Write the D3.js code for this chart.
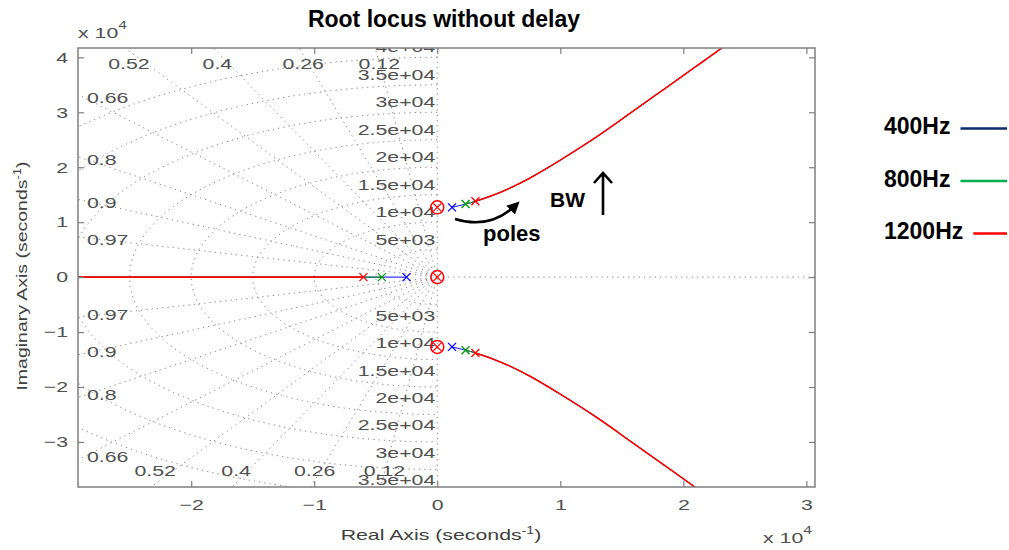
<!DOCTYPE html>
<html><head><meta charset="utf-8">
<script src="https://cdn.jsdelivr.net/npm/d3@7"></script>
<style>
html,body{margin:0;padding:0;background:#fff;}
svg{display:block;}
</style></head>
<body>
<svg id="chart" width="1009" height="550"></svg>
<script>
// ---------- data ----------
const seriesNames = ["400Hz", "800Hz", "1200Hz"];
const seriesColors = ["#0000ff", "#009a00", "#ff0000"];
const legendColors = ["#0c2c6c", "#00b050", "#ff0000"];
// real-axis pole of each series (x 1e4)
const realPoles = [-0.25, -0.45, -0.60];
// index into complex branch where each series' pole sits
const branchStart = [0, 1, 2];
// upper complex branch (conjugate below), x 1e4
const branchRe = [0.12, 0.23, 0.31, 0.43, 0.59, 0.75, 1.00, 1.30, 1.56, 1.83, 2.10, 2.30, 2.45];
const branchIm = [1.27, 1.33, 1.38, 1.47, 1.62, 1.80, 2.13, 2.56, 2.97, 3.40, 3.83, 4.15, 4.40];
// zeros (x 1e4)
const zeroRe = [0, 0, 0];
const zeroIm = [0, 1.27, -1.27];
// grid
const zetaValues = [0.12, 0.26, 0.4, 0.52, 0.66, 0.8, 0.9, 0.97];
const wnValues = [5e3, 1e4, 1.5e4, 2e4, 2.5e4, 3e4, 3.5e4, 4e4];
const wnLabels = ["5e+03", "1e+04", "1.5e+04", "2e+04", "2.5e+04", "3e+04", "3.5e+04", "4e+04"];
const xTicks = [-2, -1, 0, 1, 2, 3];
const yTicks = [-3, -2, -1, 0, 1, 2, 3, 4];
const xDomain = [-2.92e4, 3.07e4];
const yDomain = [-3.82e4, 4.17e4];

// ---------- layout ----------
const L = 78, R = 815, T = 48, B = 487;
const SX = 1.42; // horizontal stretch of MATLAB-style text
const svg = d3.select("#chart");
const x = d3.scaleLinear().domain(xDomain).range([L, R]);
const y = d3.scaleLinear().domain(yDomain).range([B, T]);
const mFont = "'Liberation Sans', Arial, sans-serif";

const defs = svg.append("defs");
defs.append("clipPath").attr("id", "clip")
  .append("rect").attr("x", L).attr("y", T).attr("width", R - L).attr("height", B - T);
defs.append("marker").attr("id", "ah").attr("viewBox", "0 0 10 10")
  .attr("refX", 6).attr("refY", 5).attr("markerWidth", 5).attr("markerHeight", 5)
  .attr("orient", "auto").append("path").attr("d", "M0,0 L10,5 L0,10 Z").attr("fill", "#000");

function mtext(g, px, py, str, anchor, sx, color) {
  return g.append("text").attr("transform", `translate(${px},${py}) scale(${sx},1)`)
    .attr("text-anchor", anchor).attr("font-family", mFont).attr("font-size", 15)
    .attr("fill", color || "#505050").text(str);
}

// ---------- grid ----------
const grid = svg.append("g").attr("clip-path", "url(#clip)")
  .attr("fill", "none").attr("stroke", "#8a8a8a").attr("stroke-width", 1)
  .attr("stroke-dasharray", "1.3,4");
const line = d3.line().x(d => x(d[0])).y(d => y(d[1]));
zetaValues.forEach(z => {
  const ph = Math.acos(z), Rr = 8e4;
  [1, -1].forEach(s => grid.append("path")
    .attr("d", line([[0, 0], [-Rr * Math.cos(ph), s * Rr * Math.sin(ph)]])));
});
wnValues.forEach(w => {
  const pts = d3.range(0, 181).map(i => {
    const th = Math.PI / 2 + i * Math.PI / 180;
    return [w * Math.cos(th), w * Math.sin(th)];
  });
  grid.append("path").attr("d", line(pts));
});
grid.append("path").attr("d", line([[0, yDomain[0]], [0, yDomain[1]]]));
grid.append("path").attr("d", line([[0, 0], [xDomain[1], 0]]));

// grid labels (clipped to the axes box)
const lab = svg.append("g").attr("clip-path", "url(#clip)");
zetaValues.forEach(z => {
  const ph = Math.acos(z), t = Math.tan(ph);
  const xt = -yDomain[1] / t;
  if (xt > xDomain[0]) {
    mtext(lab, x(xt) + 4, T + 21, String(z), "middle", SX);
  } else {
    const yl = -xDomain[0] * t;
    mtext(lab, L + 9, y(yl) + 3 + 5.5, String(z), "start", SX);
  }
  const xb = yDomain[0] / t;
  if (xb > xDomain[0]) {
    mtext(lab, x(xb) + 4, B - 11, String(z), "middle", SX);
  } else {
    const yl = xDomain[0] * t;
    mtext(lab, L + 9, y(yl) - 3 + 5.5, String(z), "start", SX);
  }
});
wnValues.forEach((w, i) => {
  mtext(lab, x(0) - 2, y(w) - 5, wnLabels[i], "end", SX);
  mtext(lab, x(0) - 2, y(-w) + 16, wnLabels[i], "end", SX);
});

// ---------- locus ----------
const plot = svg.append("g").attr("clip-path", "url(#clip)");
const curve = d3.line().x(d => x(d[0] * 1e4)).y(d => y(d[1] * 1e4)).curve(d3.curveCatmullRom);
seriesNames.forEach((n, k) => {
  const c = seriesColors[k];
  const sw = k === seriesNames.length - 1 ? 1.6 : 1.0;
  plot.append("path").attr("d", line([[realPoles[k] * 1e4, 0], [-6e4, 0]]))
    .attr("stroke", c).attr("stroke-width", sw).attr("fill", "none");
  const up = branchRe.slice(branchStart[k]).map((v, i) => [v, branchIm[branchStart[k] + i]]);
  [1, -1].forEach(s => plot.append("path").attr("d", curve(up.map(p => [p[0], s * p[1]])))
    .attr("stroke", c).attr("stroke-width", sw).attr("fill", "none"));
});
// pole markers
seriesNames.forEach((n, k) => {
  const c = seriesColors[k];
  const pts = [[realPoles[k], 0], [branchRe[branchStart[k]], branchIm[branchStart[k]]],
               [branchRe[branchStart[k]], -branchIm[branchStart[k]]]];
  pts.forEach(p => {
    const px = x(p[0] * 1e4), py = y(p[1] * 1e4), r = 4;
    plot.append("path").attr("d", `M${px - r},${py - r}L${px + r},${py + r}M${px - r},${py + r}L${px + r},${py - r}`)
      .attr("stroke", c).attr("stroke-width", 1.3);
  });
});
// zeros
zeroRe.forEach((zr, i) => {
  const px = x(zr * 1e4), py = y(zeroIm[i] * 1e4), r = 4;
  plot.append("circle").attr("cx", px).attr("cy", py).attr("r", 6.5)
    .attr("fill", "none").attr("stroke", "#ff0000").attr("stroke-width", 1.5);
  plot.append("path").attr("d", `M${px - r},${py - r}L${px + r},${py + r}M${px - r},${py + r}L${px + r},${py - r}`)
    .attr("stroke", "#ff0000").attr("stroke-width", 1.3);
});

// ---------- axes ----------
const axColor = "#7f7f7f";
function styleAxis(g, isLeft) {
  g.select(".domain").remove();
  g.selectAll("line").attr("stroke", axColor).attr("stroke-width", 1.2);
  g.selectAll("text").attr("font-family", mFont).attr("font-size", 15).attr("fill", "#505050")
    .attr("transform", `scale(${SX},1)`)
    .each(function () { if (isLeft) d3.select(this).attr("x", -10 / SX); });
}
svg.append("g").attr("transform", `translate(0,${B})`)
  .call(d3.axisBottom(x).tickValues(xTicks.map(v => v * 1e4)).tickFormat(v => d3.format("d")(v / 1e4))
    .tickSizeInner(-6).tickSizeOuter(0).tickPadding(12))
  .call(g => styleAxis(g, false));
svg.append("g").attr("transform", `translate(0,${T})`)
  .call(d3.axisTop(x).tickValues(xTicks.map(v => v * 1e4)).tickFormat("").tickSizeInner(-6).tickSizeOuter(0))
  .call(g => styleAxis(g, false));
svg.append("g").attr("transform", `translate(${L},0)`)
  .call(d3.axisLeft(y).tickValues(yTicks.map(v => v * 1e4)).tickFormat(v => d3.format("d")(v / 1e4))
    .tickSizeInner(-6).tickSizeOuter(0).tickPadding(10))
  .call(g => styleAxis(g, true));
svg.append("g").attr("transform", `translate(${R},0)`)
  .call(d3.axisRight(y).tickValues(yTicks.map(v => v * 1e4)).tickFormat("").tickSizeInner(-6).tickSizeOuter(0))
  .call(g => styleAxis(g, false));
svg.append("rect").attr("x", L).attr("y", T).attr("width", R - L).attr("height", B - T)
  .attr("fill", "none").attr("stroke", axColor).attr("stroke-width", 1.5);

// exponent labels
function expLabel(px, py) {
  const t = svg.append("text").attr("transform", `translate(${px},${py}) scale(${SX},1)`)
    .attr("font-family", mFont).attr("font-size", 15).attr("fill", "#505050");
  t.append("tspan").text("x 10");
  t.append("tspan").attr("dy", -9).attr("font-size", 11).text("4");
}
expLabel(78, 38);
expLabel(763, 543);

// axis titles
const xl = svg.append("text").attr("transform", `translate(441,540) scale(${SX},1)`)
  .attr("text-anchor", "middle").attr("font-family", mFont).attr("font-size", 15).attr("fill", "#404040");
xl.append("tspan").text("Real Axis (seconds");
xl.append("tspan").attr("dy", -6).attr("font-size", 10).text("-1");
xl.append("tspan").attr("dy", 6).text(")");
const yl = svg.append("text").attr("transform", `translate(27,276) rotate(-90) scale(1.3,1)`)
  .attr("text-anchor", "middle").attr("font-family", mFont).attr("font-size", 15).attr("fill", "#404040");
yl.append("tspan").text("Imaginary Axis (seconds");
yl.append("tspan").attr("dy", -6).attr("font-size", 10).text("-1");
yl.append("tspan").attr("dy", 6).text(")");

// title
svg.append("text").attr("x", 444).attr("y", 27).attr("text-anchor", "middle")
  .attr("font-family", "'Liberation Sans', Arial, sans-serif").attr("font-weight", "bold")
  .attr("font-size", 23).attr("fill", "#000").text("Root locus without delay");

// ---------- annotations ----------
svg.append("path").attr("d", "M455,219 Q490,230 516,205").attr("fill", "none")
  .attr("stroke", "#000").attr("stroke-width", 2.5).attr("marker-end", "url(#ah)");
svg.append("text").attr("x", 483).attr("y", 241).attr("font-family", mFont).attr("font-weight", "bold")
  .attr("font-size", 22).attr("fill", "#000").text("poles");
svg.append("text").attr("x", 550).attr("y", 207).attr("font-family", mFont).attr("font-weight", "bold")
  .attr("font-size", 21).attr("fill", "#000").text("BW");
svg.append("path").attr("d", "M603,215 L603,173 M594,183 L603,173 L612,183").attr("fill", "none")
  .attr("stroke", "#000").attr("stroke-width", 2.6);

// ---------- legend ----------
const leg = svg.append("g");
seriesNames.forEach((n, i) => {
  const by = 134 + i * 52.5;
  const t = leg.append("text").attr("x", 884).attr("y", by).attr("font-family", mFont)
    .attr("font-weight", "bold").attr("font-size", 23).attr("fill", "#000").text(n);
  const w = t.node().getComputedTextLength();
  leg.append("line").attr("x1", 884 + w + 10).attr("x2", 1007).attr("y1", by - 5.5).attr("y2", by - 5.5)
    .attr("stroke", legendColors[i]).attr("stroke-width", 2.5);
});
</script>
</body></html>
